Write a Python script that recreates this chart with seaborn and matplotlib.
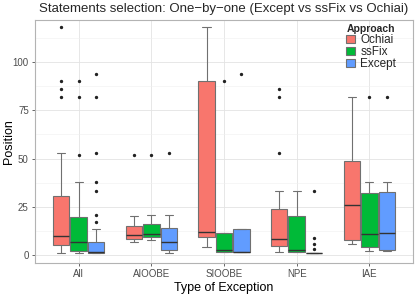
import numpy as np
import pandas as pd
import matplotlib
matplotlib.use("Agg")
import matplotlib.pyplot as plt
from matplotlib.ticker import MultipleLocator
import seaborn as sns

categories = ["All", "AIOOBE", "SIOOBE", "NPE", "IAE"]
approaches = ["Ochiai", "ssFix", "Except"]
colors = ["#F8766D", "#00BA38", "#619CFF"]

# five-number summaries per category: [low whisker, Q1, median, Q3, high whisker]
ochiai_stats = [[1, 5, 10, 30.5, 53], [7, 8.3, 10.4, 15.2, 20], [4, 9.5, 12, 90, 118],
                [1.7, 4.8, 8.3, 23.7, 33], [5.5, 7.8, 26, 49, 82]]
ssfix_stats = [[1.2, 2, 6.6, 19.5, 38], [7.8, 9.2, 11.1, 16.1, 21], [1.4, 1.4, 2.6, 11.7, 11.7],
               [1.4, 1.4, 2.6, 20, 33], [2, 4.3, 10.7, 32.3, 38]]
except_stats = [[1, 1, 1.4, 6.9, 13.3], [1, 2.6, 6.9, 13.8, 21], [1.4, 1.4, 1.7, 13.3, 13.3],
                [1, 1, 1, 1, 1], [2, 2.6, 11.6, 32.8, 38]]

ochiai_outliers = [[118, 90, 86, 82], [52], [], [86, 82, 53], []]
ssfix_outliers = [[90, 82, 52], [52], [90], [], [82]]
except_outliers = [[94, 82, 53, 38, 33, 21, 17], [53], [94], [33, 8.6, 5.7, 3.3], [82]]


def expand(stats, outliers):
    lo, q1, med, q3, hi = stats
    h = len(outliers)
    m = h + 2
    vals = [lo] + [q1] * m + [med] * m + [q3] * m + [hi] * (m - h) + list(outliers)
    return vals


rows = []
for approach, st, ol in [("Ochiai", ochiai_stats, ochiai_outliers),
                         ("ssFix", ssfix_stats, ssfix_outliers),
                         ("Except", except_stats, except_outliers)]:
    for cat, s, o in zip(categories, st, ol):
        for v in expand(s, o):
            rows.append({"exception": cat, "approach": approach, "position": v})
df = pd.DataFrame(rows)

sns.set_theme(style="white")
plt.rcParams["font.family"] = ["Liberation Sans", "DejaVu Sans"]

fig = plt.figure(figsize=(4.15, 2.94), dpi=100)
ax = fig.add_axes([35 / 415, 1 - 263 / 294, 378 / 415, 243 / 294])

sns.boxplot(data=df, x="exception", y="position", hue="approach",
            order=categories, hue_order=approaches, palette=colors,
            saturation=1, width=0.72, gap=0.06, linewidth=0.8,
            linecolor="#707070", ax=ax,
            medianprops=dict(color="#333333", linewidth=1.0),
            flierprops=dict(marker="o", markerfacecolor="#222222",
                            markeredgecolor="#222222", markersize=1.4))

ax.set_xlim(-0.6, 4.6)
ax.set_ylim(-4.1, 121.8)
ax.yaxis.set_major_locator(MultipleLocator(25))
ax.yaxis.set_minor_locator(MultipleLocator(12.5))
ax.grid(True, which="major", color="#e3e3e3", linewidth=0.6)
ax.grid(True, which="minor", axis="y", color="#efefef", linewidth=0.4)
ax.set_axisbelow(True)
for sp in ax.spines.values():
    sp.set_color("#b3b3b3")
    sp.set_linewidth(0.8)
ax.tick_params(axis="both", which="major", labelsize=7, colors="#4d4d4d",
               length=2.5, width=0.6, pad=2, left=True, bottom=True)
ax.tick_params(axis="both", which="minor", length=0)
for t in ax.get_xticklabels() + ax.get_yticklabels():
    t.set_color("#4d4d4d")
ax.set_xlabel("Type of Exception", fontsize=9, color="black", labelpad=2)
ax.set_ylabel("Position", fontsize=9, color="black")
ax.yaxis.set_label_coords(-20 / 378, 0.5)

handles, labels = ax.get_legend_handles_labels()
if ax.get_legend() is not None:
    ax.get_legend().remove()
leg = fig.legend(handles, labels, title="Approach", loc="upper left",
                 bbox_to_anchor=(338 / 415, 1 - 16 / 294), frameon=False,
                 fontsize=8.5, title_fontsize=7.5, handlelength=0.7,
                 handleheight=0.7, handletextpad=0.5, labelspacing=0.0,
                 borderpad=0.2)
leg.get_title().set_fontweight("bold")
leg._legend_box.align = "left"

fig.text(39 / 415, 1 - 9 / 294,
         "Statements selection: One\u2212by\u2212one (Except vs ssFix vs Ochiai)",
         fontsize=9.5, va="center", ha="left")

fig.savefig("out.png", dpi=100)
